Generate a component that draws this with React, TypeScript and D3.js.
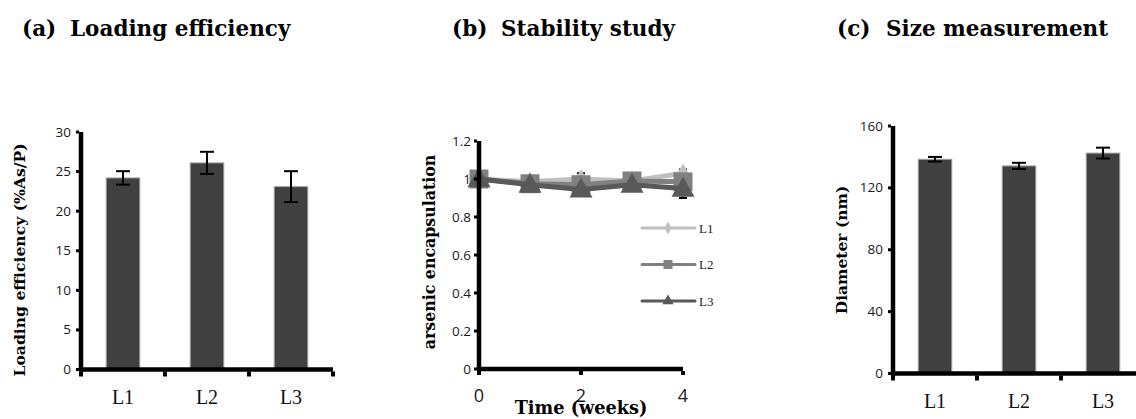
import React, { useEffect, useRef } from 'react';
import * as d3 from 'd3';

// panel (a) loading efficiency
const lipoCats = ['L1', 'L2', 'L3'];
const loadingVals = [24.2, 26.1, 23.1];
const loadingErr = [0.85, 1.4, 1.95];
const loadingTicks = [0, 5, 10, 15, 20, 25, 30];

// panel (b) stability over time
const weeks = [0, 1, 2, 3, 4];
const weekTicks = [0, 2, 4];
const stabL1 = [1.0, 0.985, 1.0, 0.99, 1.03];
const stabL2 = [1.0, 0.975, 0.97, 0.99, 0.985];
const stabL3 = [1.0, 0.97, 0.945, 0.97, 0.95];
const stabErrL1 = [0.01, 0.01, 0.03, 0.01, 0.02];
const stabErrL2 = [0.01, 0.01, 0.02, 0.01, 0.02];
const stabErrL3 = [0.01, 0.02, 0.02, 0.02, 0.05];
const stabTicks = [0, 0.2, 0.4, 0.6, 0.8, 1, 1.2];

// panel (c) size
const sizeVals = [138.5, 134.2, 142.5];
const sizeErr = [1.5, 2.0, 3.5];
const sizeTicks = [0, 40, 80, 120, 160];

const SERIF = '"Liberation Serif", "DejaVu Serif", serif';
const BOLD_SERIF = '"DejaVu Serif", "Liberation Serif", serif';
const SANS = '"Open Sans", "Liberation Sans", sans-serif';

type BarCfg = {
  left: number; right: number; zero: number; top: number;
  max: number; vals: number[]; errs: number[]; ticks: number[];
};

function drawBars(g: d3.Selection<SVGGElement, unknown, null, undefined>, c: BarCfg) {
  const x = d3.scaleBand().domain(lipoCats).range([c.left, c.right]).paddingInner(0.6).paddingOuter(0.3);
  const y = d3.scaleLinear().domain([0, c.max]).range([c.zero, c.top]);

  g.selectAll('.bar')
    .data(c.vals)
    .enter().append('rect')
    .attr('x', (d, i) => x(lipoCats[i])!)
    .attr('y', d => y(d))
    .attr('width', x.bandwidth())
    .attr('height', d => c.zero - y(d))
    .attr('fill', '#404040')
    .attr('stroke', '#a6a6a6')
    .attr('stroke-width', 1);

  // error bars
  c.vals.forEach((v, i) => {
    const cx = x(lipoCats[i])! + x.bandwidth() / 2;
    const hi = y(v + c.errs[i]);
    const lo = y(v - c.errs[i]);
    g.append('line').attr('x1', cx).attr('x2', cx).attr('y1', hi).attr('y2', lo)
      .attr('stroke', '#000').attr('stroke-width', 2);
    [hi, lo].forEach(yy => {
      g.append('line').attr('x1', cx - 7).attr('x2', cx + 7).attr('y1', yy).attr('y2', yy)
        .attr('stroke', '#000').attr('stroke-width', 2);
    });
  });

  // axes
  g.append('line').attr('x1', c.left).attr('x2', c.left).attr('y1', c.top).attr('y2', c.zero + 2)
    .attr('stroke', '#000').attr('stroke-width', 4.5);
  g.append('line').attr('x1', c.left - 2).attr('x2', c.right).attr('y1', c.zero).attr('y2', c.zero)
    .attr('stroke', '#000').attr('stroke-width', 4.5);

  c.ticks.forEach(t => {
    g.append('rect').attr('x', c.left - 5).attr('y', y(t) - 1.5).attr('width', 3).attr('height', 3).attr('fill', '#000');
    g.append('text').attr('x', c.left - 10).attr('y', y(t) + 4.5)
      .attr('text-anchor', 'end').attr('font-family', SANS).attr('font-size', 13.5).attr('fill', '#1a1a1a')
      .text(t);
  });

  const edges = [c.left, ...lipoCats.map(k => x(k)! + x.bandwidth() + x.step() * 0.3)];
  edges.forEach(e => {
    g.append('rect').attr('x', e - 2).attr('y', c.zero + 2).attr('width', 4).attr('height', 5).attr('fill', '#000');
  });
  lipoCats.forEach(k => {
    g.append('text').attr('x', x(k)! + x.bandwidth() / 2).attr('y', c.zero + 34)
      .attr('text-anchor', 'middle').attr('font-family', SERIF).attr('font-size', 20).attr('fill', '#111')
      .text(k);
  });
}

export default function App() {
  const ref = useRef<SVGSVGElement>(null);

  useEffect(() => {
    const svg = d3.select(ref.current!);
    svg.selectAll('*').remove();
    const g = svg.append('g');

    // titles
    const titles = [
      { tag: '(a)', tx: 22, name: 'Loading efficiency', nx: 70 },
      { tag: '(b)', tx: 452, name: 'Stability study', nx: 501 },
      { tag: '(c)', tx: 837, name: 'Size measurement', nx: 886 },
    ];
    titles.forEach(t => {
      g.append('text').attr('x', t.tx).attr('y', 36).attr('font-family', BOLD_SERIF).attr('font-weight', 'bold')
        .attr('font-size', 21.5).text(t.tag);
      g.append('text').attr('x', t.nx).attr('y', 36).attr('font-family', BOLD_SERIF).attr('font-weight', 'bold')
        .attr('font-size', 21.5).text(t.name);
    });

    // (a)
    drawBars(g, { left: 81, right: 333, zero: 369.5, top: 132, max: 30, vals: loadingVals, errs: loadingErr, ticks: loadingTicks });
    g.append('text').attr('transform', 'translate(25,260) rotate(-90)').attr('text-anchor', 'middle')
      .attr('font-family', BOLD_SERIF).attr('font-weight', 'bold').attr('font-size', 15.6).text('Loading efficiency (%As/P)');

    // (c)
    drawBars(g, { left: 893, right: 1145, zero: 373.5, top: 126, max: 160, vals: sizeVals, errs: sizeErr, ticks: sizeTicks });
    g.append('text').attr('transform', 'translate(847,250) rotate(-90)').attr('text-anchor', 'middle')
      .attr('font-family', BOLD_SERIF).attr('font-weight', 'bold').attr('font-size', 15.5).text('Diameter (nm)');

    // (b)
    const left = 479, right = 683, zero = 369, top = 141;
    const x = d3.scaleLinear().domain([0, 4]).range([left, right]);
    const y = d3.scaleLinear().domain([0, 1.2]).range([zero, top]);

    const series = [
      { name: 'L1', vals: stabL1, errs: stabErrL1, color: '#bfbfbf', sym: d3.symbolDiamond, size: 110, lsize: 45 },
      { name: 'L2', vals: stabL2, errs: stabErrL2, color: '#808080', sym: d3.symbolSquare, size: 360, lsize: 80 },
      { name: 'L3', vals: stabL3, errs: stabErrL3, color: '#595959', sym: d3.symbolTriangle, size: 230, lsize: 55 },
    ];

    // error bars first
    series.forEach(s => {
      s.vals.forEach((v, i) => {
        const cx = x(weeks[i]);
        [y(v + s.errs[i]), y(v - s.errs[i])].forEach(yy => {
          g.append('line').attr('x1', cx).attr('x2', cx).attr('y1', y(v)).attr('y2', yy).attr('stroke', '#000').attr('stroke-width', 1.5);
          g.append('line').attr('x1', cx - 4).attr('x2', cx + 4).attr('y1', yy).attr('y2', yy).attr('stroke', '#000').attr('stroke-width', 2);
        });
      });
    });

    const line = d3.line<number>().x((d, i) => x(weeks[i])).y(d => y(d));
    series.forEach(s => {
      g.append('path').datum(s.vals).attr('d', line).attr('fill', 'none')
        .attr('stroke', s.color).attr('stroke-width', 5).attr('stroke-linejoin', 'round');
      s.vals.forEach((v, i) => {
        g.append('path').attr('d', d3.symbol().type(s.sym).size(s.size)())
          .attr('transform', `translate(${x(weeks[i])},${y(v) + (s.sym === d3.symbolTriangle ? 1.5 : 0)})`)
          .attr('fill', s.color);
      });
    });

    // legend
    series.forEach((s, i) => {
      const ly = 228 + i * 36.5;
      g.append('line').attr('x1', 642).attr('x2', 695).attr('y1', ly).attr('y2', ly)
        .attr('stroke', s.color).attr('stroke-width', 3).attr('stroke-linecap', 'round');
      g.append('path').attr('d', d3.symbol().type(s.sym).size(s.lsize)())
        .attr('transform', `translate(668,${ly})`).attr('fill', s.color);
      g.append('text').attr('x', 699).attr('y', ly + 4.5).attr('font-family', SERIF).attr('font-size', 13)
        .attr('fill', '#222').text(s.name);
    });

    // axes
    g.append('line').attr('x1', left).attr('x2', left).attr('y1', top).attr('y2', zero + 2)
      .attr('stroke', '#000').attr('stroke-width', 4.5);
    g.append('line').attr('x1', left - 2).attr('x2', right).attr('y1', zero).attr('y2', zero)
      .attr('stroke', '#000').attr('stroke-width', 4.5);
    stabTicks.forEach(t => {
      g.append('rect').attr('x', left - 5).attr('y', y(t) - 1.5).attr('width', 3).attr('height', 3).attr('fill', '#000');
      g.append('text').attr('x', left - 8).attr('y', y(t) + 5)
        .attr('text-anchor', 'end').attr('font-family', SANS).attr('font-size', 13.5).attr('fill', '#1a1a1a')
        .text(t);
    });
    weekTicks.forEach(t => {
      g.append('rect').attr('x', x(t) - 2).attr('y', zero + 2).attr('width', 4).attr('height', 4).attr('fill', '#000');
      g.append('text').attr('x', x(t)).attr('y', 402)
        .attr('text-anchor', 'middle').attr('font-family', SANS).attr('font-size', 18).attr('fill', '#1a1a1a')
        .text(t);
    });
    g.append('text').attr('transform', 'translate(435,252) rotate(-90)').attr('text-anchor', 'middle')
      .attr('font-family', BOLD_SERIF).attr('font-weight', 'bold').attr('font-size', 15.8).text('arsenic encapsulation');
    g.append('text').attr('x', 581).attr('y', 414).attr('text-anchor', 'middle')
      .attr('font-family', BOLD_SERIF).attr('font-weight', 'bold').attr('font-size', 17.7).text('Time (weeks)');
  }, []);

  return (
    <svg ref={ref} width={1136} height={419} style={{ position: 'absolute', left: 0, top: 0, background: '#fff' }} />
  );
}
